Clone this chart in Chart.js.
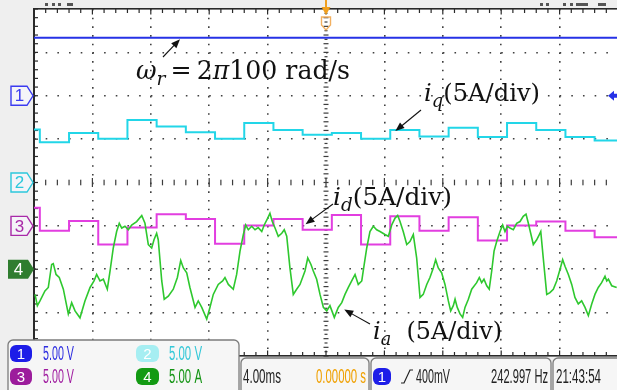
<!DOCTYPE html>
<html>
<head>
<meta charset="utf-8">
<script src="https://cdn.jsdelivr.net/npm/chart.js@4.4.0/dist/chart.umd.min.js"></script>
<style>
html,body{margin:0;padding:0;overflow:hidden;background:#efefef;width:617px;height:390px;}
canvas{display:block;}
</style>
</head>
<body>
<canvas id="c" width="625" height="390"></canvas>
<script>
// ---- data (time in ms, amplitude in screen divisions) ----
const stepTimesMs = [-20, -19.6, -17.6, -15.6, -13.6, -11.6, -9.6, -7.6, -5.6, -3.6, -1.6, 0.4, 2.4, 4.4, 6.4, 8.4, 10.4, 12.4, 14.4, 16.4, 18.4, 20];
const iqDiv = [1.22, 0.93, 1.14, 1.01, 1.44, 1.29, 1.16, 1.01, 1.37, 1.21, 1.10, 1.14, 1.01, 1.21, 1.06, 1.26, 1.05, 1.37, 1.21, 1.05, 0.97, 0.97];
const idDiv = [-0.58, -1.11, -0.89, -1.43, -1.04, -0.73, -0.84, -1.41, -0.99, -0.84, -1.09, -0.75, -1.43, -0.78, -1.11, -0.80, -1.34, -0.99, -0.90, -1.11, -1.26, -1.26];
const wrTimesMs = [-20, 20];
const wrDiv = [3.34, 3.34];
const iaTimesMs = [-19.93, -19.77, -19.59, -19.25, -19.02, -18.79, -18.68, -18.49, -18.27, -17.99,
  -17.65, -17.42, -17.19, -16.85, -16.51, -16.16, -15.89, -15.71, -15.48, -15.25,
  -14.98, -14.79, -14.57, -14.34, -14.16, -13.99, -13.77, -13.54, -13.31, -12.97,
  -12.62, -12.40, -12.17, -11.94, -11.78, -11.60, -11.49, -11.25, -11.08, -10.80,
  -10.46, -10.18, -9.95, -9.77, -9.54, -9.32, -8.97, -8.75, -8.51, -8.17,
  -7.95, -7.72, -7.38, -7.08, -6.92, -6.69, -6.35, -6.12, -5.89, -5.66,
  -5.50, -5.32, -5.09, -4.86, -4.64, -4.40, -4.23, -3.99, -3.84, -3.68,
  -3.49, -3.27, -3.03, -2.86, -2.69, -2.47, -2.24, -2.01, -1.78, -1.44,
  -1.25, -1.03, -0.87, -0.64, -0.41, -0.18, 0.05, 0.27, 0.57, 0.84,
  1.08, 1.30, 1.53, 1.76, 1.99, 2.21, 2.45, 2.55, 2.79, 3.01,
  3.24, 3.47, 3.70, 4.04, 4.27, 4.50, 4.73, 4.91, 5.07, 5.29,
  5.53, 5.75, 5.98, 6.21, 6.44, 6.66, 6.90, 7.12, 7.35, 7.51,
  7.69, 7.92, 8.15, 8.38, 8.54, 8.72, 8.84, 8.99, 9.18, 9.36,
  9.52, 9.75, 9.98, 10.32, 10.50, 10.66, 10.82, 11.01, 11.18, 11.35,
  11.51, 11.69, 11.92, 12.10, 12.26, 12.42, 12.60, 12.83, 13.06, 13.29,
  13.51, 13.70, 13.86, 14.02, 14.20, 14.43, 14.61, 14.71, 14.88, 15.12,
  15.34, 15.57, 15.80, 16.03, 16.21, 16.37, 16.60, 16.83, 17.05, 17.28,
  17.51, 17.74, 17.97, 18.20, 18.42, 18.65, 18.88, 19.11, 19.23, 19.34,
  19.57, 19.91];
const iaDiv = [-2.58, -2.84, -2.73, -2.50, -2.42, -1.89, -1.87, -2.12, -2.19, -2.46,
  -3.03, -2.77, -2.96, -3.12, -2.73, -2.42, -2.27, -2.12, -2.27, -2.23,
  -2.46, -2.04, -1.51, -1.13, -0.94, -1.05, -1.01, -1.09, -0.98, -0.90,
  -0.76, -0.94, -1.43, -1.51, -1.32, -1.17, -1.32, -2.27, -2.69, -2.62,
  -2.46, -2.19, -1.80, -1.97, -2.08, -2.42, -2.88, -2.73, -2.88, -3.15,
  -2.88, -2.58, -2.35, -2.27, -2.19, -2.35, -2.46, -2.12, -1.58, -1.20,
  -0.98, -1.09, -1.01, -1.09, -1.04, -1.13, -0.98, -0.82, -0.71, -0.90,
  -1.05, -1.24, -1.17, -1.09, -1.24, -1.97, -2.58, -2.46, -2.35, -2.04,
  -1.74, -1.89, -2.04, -2.23, -2.58, -2.88, -2.96, -2.84, -3.11, -2.88,
  -2.77, -2.58, -2.42, -2.27, -2.12, -2.35, -2.27, -2.04, -1.51, -1.13,
  -1.01, -1.09, -1.13, -1.20, -1.24, -0.98, -0.82, -0.76, -0.90, -1.13,
  -1.43, -1.36, -1.20, -1.74, -2.65, -2.58, -2.35, -2.19, -1.97, -1.78,
  -1.97, -2.08, -2.35, -2.73, -2.96, -2.84, -2.69, -2.88, -3.03, -3.11,
  -2.88, -2.69, -2.46, -2.31, -2.19, -2.31, -2.23, -2.38, -2.46, -2.04,
  -1.58, -1.36, -1.13, -0.98, -1.13, -1.01, -1.05, -1.09, -0.94, -0.90,
  -0.78, -0.73, -0.94, -1.17, -1.43, -1.32, -1.20, -1.13, -1.74, -2.58,
  -2.54, -2.46, -2.27, -2.00, -1.78, -1.93, -2.12, -2.35, -2.65, -2.80,
  -2.73, -2.88, -3.07, -2.80, -2.58, -2.42, -2.31, -2.16, -2.27, -2.23,
  -2.38, -2.42];
const channelOffsetsDiv = [2, 0, -1, -2];
const channelScales = ['5.00 V', '5.00 V', '5.00 V', '5.00 A'];
const timebaseLabel = '4.00ms';
const delayLabel = '0.00000 s';
const trigLevelLabel = '400mV';
const freqLabel = '242.997 Hz';
const clockLabel = '21:43:54';

const COL = {blue:'#2632e6', cyan:'#22d6e8', mag:'#e23ee0', green:'#2ec82e'};
const zip = (xs, ys) => xs.map((t, i) => ({x: t, y: ys[i]}));

// ---- helpers ----
function richText(ctx, runs, x, base, size, targetW, color) {
  const fam = '"DejaVu Serif", serif';
  let w = 0; const parts = [];
  for (const r of runs) {
    const s = r.sub ? size * 0.74 : size;
    const font = (r.it ? 'italic ' : '') + s + 'px ' + fam;
    ctx.font = font;
    const mw = ctx.measureText(r.t).width;
    parts.push({r, font, mw});
    w += mw;
  }
  const sx = targetW ? targetW / w : 1;
  ctx.save();
  ctx.translate(x, base); ctx.scale(sx, 1);
  ctx.fillStyle = color || '#111'; ctx.textAlign = 'left'; ctx.textBaseline = 'alphabetic';
  let cx = 0;
  for (const p of parts) {
    ctx.font = p.font;
    ctx.fillText(p.r.t, cx, p.r.sub ? size * 0.24 : 0);
    cx += p.mw;
  }
  ctx.restore();
}
function fitText(ctx, s, x, y, w, size, color, right) {
  ctx.save();
  ctx.font = size + 'px "Liberation Sans", Arial, sans-serif';
  const m = ctx.measureText(s).width;
  ctx.translate(right ? x - w : x, y); ctx.scale(w / m, 1);
  ctx.fillStyle = color; ctx.textAlign = 'left'; ctx.textBaseline = 'alphabetic';
  ctx.fillText(s, 0, 0);
  ctx.restore();
}
function arrow(ctx, x1, y1, x2, y2) {
  const ang = Math.atan2(y2 - y1, x2 - x1);
  const L = 9, W = 3.6;
  ctx.save();
  ctx.strokeStyle = '#111'; ctx.fillStyle = '#111'; ctx.lineWidth = 1.1;
  ctx.beginPath(); ctx.moveTo(x1, y1);
  ctx.lineTo(x2 - Math.cos(ang) * L * 0.8, y2 - Math.sin(ang) * L * 0.8); ctx.stroke();
  ctx.beginPath();
  ctx.moveTo(x2, y2);
  ctx.lineTo(x2 - Math.cos(ang) * L + Math.sin(ang) * W, y2 - Math.sin(ang) * L - Math.cos(ang) * W);
  ctx.lineTo(x2 - Math.cos(ang) * L - Math.sin(ang) * W, y2 - Math.sin(ang) * L + Math.cos(ang) * W);
  ctx.closePath(); ctx.fill();
  ctx.restore();
}
function chMarker(ctx, yc, label, color, filled, x0, x1, tip) {
  ctx.save();
  ctx.beginPath();
  ctx.moveTo(x0, yc - 9.5); ctx.lineTo(x1, yc - 9.5); ctx.lineTo(tip, yc); ctx.lineTo(x1, yc + 9.5); ctx.lineTo(x0, yc + 9.5); ctx.closePath();
  if (filled) { ctx.fillStyle = color; ctx.fill(); }
  else { ctx.fillStyle = '#f4f4f8'; ctx.fill(); ctx.strokeStyle = color; ctx.lineWidth = 1.4; ctx.stroke(); }
  ctx.fillStyle = filled ? '#ffffff' : color;
  ctx.font = '17px "Liberation Sans", Arial, sans-serif';
  ctx.textAlign = 'center'; ctx.textBaseline = 'middle';
  ctx.fillText(label, (x0 + x1) / 2 + 0.5, yc + 1);
  ctx.restore();
}
function badge(ctx, x, y, w, h, fill, label) {
  ctx.save();
  ctx.beginPath(); ctx.roundRect(x, y, w, h, 6); ctx.fillStyle = fill; ctx.fill();
  ctx.fillStyle = '#ffffff'; ctx.font = '15px "Liberation Sans", Arial, sans-serif';
  ctx.textAlign = 'center'; ctx.textBaseline = 'middle';
  ctx.fillText(label, x + w / 2, y + h / 2 + 1);
  ctx.restore();
}
function panel(ctx, x, y, w, h) {
  ctx.save();
  ctx.beginPath(); ctx.roundRect(x, y, w, h, 5);
  ctx.fillStyle = '#f6f6f6'; ctx.fill();
  ctx.strokeStyle = '#7c7c7c'; ctx.lineWidth = 1.3; ctx.stroke();
  ctx.restore();
}

const scopePlugin = {
  id: 'scope',
  beforeDraw(chart) {
    const {ctx, chartArea: a} = chart;
    ctx.save();
    ctx.fillStyle = '#efefef'; ctx.fillRect(0, 0, chart.width, chart.height);
    ctx.fillStyle = '#ffffff'; ctx.fillRect(a.left, a.top, a.right - a.left, a.bottom - a.top);
    // clipped remains of status text above the screen
    ctx.fillStyle = '#555';
    [[45, 3], [52, 3], [58, 3], [67, 6]].forEach(([px, w]) => ctx.fillRect(px, 3, w, 3));
    [[540, 3], [546, 3], [563, 3], [570, 3], [576, 12], [598, 8]].forEach(([px, w]) => ctx.fillRect(px, 3, w, 3));
    ctx.restore();
  },
  beforeDatasetsDraw(chart) {
    const {ctx, chartArea: a, scales: {x, y}} = chart;
    ctx.save();
    ctx.fillStyle = '#3c3c3c';
    const x0 = x.getPixelForValue(0), y0 = y.getPixelForValue(0);
    for (let k = -40; k <= 40; k++) {
      const py = y.getPixelForValue(k / 10);
      const w = (k % 2 === 0) ? 5 : 3;
      ctx.fillRect(x0 - w / 2, py - 0.6, w, 1.2);
    }
    for (let k = -25; k <= 25; k++) {
      const pxx = x.getPixelForValue(k * 0.8);
      const h = (k % 5 === 0) ? 4.5 : 2.8;
      ctx.fillRect(pxx - 0.6, y0 - h, 1.2, 2 * h);
    }
    ctx.fillStyle = '#2a2a2a';
    ctx.fillRect(a.left - 1, a.top - 1, 2, a.bottom - a.top + 2);
    ctx.fillRect(a.left - 1, a.top - 1, a.right - a.left + 2, 1.6);
    ctx.fillRect(a.left - 1, a.bottom - 1, a.right - a.left + 2, 1.6);
    for (let k = -25; k <= 25; k++) {
      const pxx = x.getPixelForValue(k * 0.8);
      const h = (k % 5 === 0) ? 5.5 : 4;
      ctx.fillRect(pxx - 0.6, a.top, 1.2, h);
      ctx.fillRect(pxx - 0.6, a.bottom - h, 1.2, h);
    }
    for (let k = -20; k <= 20; k++) {
      const py = y.getPixelForValue(k / 5);
      ctx.fillRect(a.left, py - 0.6, 4, 1.2);
    }
    ctx.restore();
  },
  afterDraw(chart) {
    const {ctx, chartArea: a, scales: {x, y}} = chart;
    const X = v => x.getPixelForValue(v), Y = v => y.getPixelForValue(v);
    ctx.save();
    const tx = X(0);
    ctx.fillStyle = '#f0a020'; ctx.strokeStyle = '#f2b060'; ctx.lineWidth = 1.4;
    ctx.fillRect(tx - 1, 0, 2, 8);
    ctx.beginPath(); ctx.moveTo(tx - 4.5, 7); ctx.lineTo(tx + 4.5, 7); ctx.lineTo(tx, 15); ctx.closePath(); ctx.fill();
    ctx.beginPath(); ctx.moveTo(tx - 4.5, 17); ctx.lineTo(tx + 4.5, 17); ctx.lineTo(tx + 4.5, 25); ctx.lineTo(tx, 30); ctx.lineTo(tx - 4.5, 25); ctx.closePath(); ctx.stroke();
    const ty = Y(channelOffsetsDiv[0]);
    ctx.fillStyle = COL.blue;
    ctx.beginPath(); ctx.moveTo(608, ty); ctx.lineTo(614, ty - 5); ctx.lineTo(614, ty + 5); ctx.closePath(); ctx.fill();
    ctx.fillRect(613, ty - 2, 5, 4);
    ctx.restore();

    chMarker(ctx, Y(channelOffsetsDiv[0]), '1', '#3a3af0', false, 11, 27, 33);
    chMarker(ctx, Y(channelOffsetsDiv[1]), '2', '#2cc8dc', false, 11, 27, 33);
    chMarker(ctx, Y(channelOffsetsDiv[2]), '3', '#a82aa8', false, 11, 27, 33);
    chMarker(ctx, Y(channelOffsetsDiv[3]), '4', '#2f7d2f', true, 8, 28, 34);

    richText(ctx, [{t: 'ω', it: true}, {t: 'r', it: true, sub: true}, {t: '\u2009=\u20092'}, {t: 'π', it: true}, {t: '100 rad/s'}], 136, 79, 26, 214);
    arrow(ctx, 163, 57, X(-10), Y(wrDiv[0]) + 1.5);
    richText(ctx, [{t: 'i', it: true}, {t: 'q', it: true, sub: true}, {t: '(5A/div)'}], 424, 101, 24, 116);
    arrow(ctx, 421, 110, X(4.75), Y(1.21) + 1);
    richText(ctx, [{t: 'i', it: true}, {t: 'd', it: true, sub: true}, {t: '(5A/div)'}], 333, 205, 24, 119);
    arrow(ctx, 333, 204, X(-1.4), Y(-0.96));
    richText(ctx, [{t: 'i', it: true}, {t: 'a', it: true, sub: true}, {t: '  (5A/div)'}], 373, 339, 24, 129);
    arrow(ctx, 370, 324, X(1.25), Y(-2.93));

    panel(ctx, 8, 340, 231, 60);
    badge(ctx, 10, 345, 22, 17, '#1d1de8', '1');
    badge(ctx, 136, 345, 23, 17, '#a6eef2', '2');
    badge(ctx, 10, 368, 22, 17, '#9c1c9c', '3');
    badge(ctx, 136, 368, 23, 17, '#139a13', '4');
    fitText(ctx, channelScales[0], 43, 360, 31, 20, '#2d2de0');
    fitText(ctx, channelScales[1], 169, 360, 33, 20, '#34c8d8');
    fitText(ctx, channelScales[2], 43, 383, 31, 20, '#a01ea0');
    fitText(ctx, channelScales[3], 169, 383, 33, 20, '#149414');

    panel(ctx, 241, 358, 128, 40);
    fitText(ctx, timebaseLabel, 243, 383, 38, 20, '#222');
    fitText(ctx, delayLabel, 366, 383, 50, 20, '#f0a000', true);
    panel(ctx, 371, 358, 180, 40);
    badge(ctx, 373, 368, 18, 17, '#1d1de8', '1');
    ctx.save();
    ctx.strokeStyle = '#222'; ctx.lineWidth = 1.2;
    ctx.beginPath(); ctx.moveTo(401, 383); ctx.lineTo(404, 383); ctx.lineTo(410, 370); ctx.lineTo(413, 370); ctx.stroke();
    ctx.restore();
    fitText(ctx, trigLevelLabel, 416, 383, 34, 20, '#222');
    fitText(ctx, freqLabel, 548, 383, 57, 20, '#222', true);
    panel(ctx, 553, 358, 75, 40);
    fitText(ctx, clockLabel, 556, 383, 45, 20, '#222');
  }
};

const gridCol = (edge) => (c) => {
  const v = c.tick ? c.tick.value : 0;
  return (Math.abs(v) < 1e-9 || Math.abs(Math.abs(v) - edge) < 1e-9) ? 'rgba(0,0,0,0)' : '#404040';
};

new Chart(document.getElementById('c'), {
  type: 'line',
  data: {
    datasets: [
      {label: 'ia', data: zip(iaTimesMs, iaDiv), borderColor: COL.green, borderWidth: 1.6, pointRadius: 0, tension: 0, order: 0},
      {label: 'id', data: zip(stepTimesMs, idDiv), borderColor: COL.mag, borderWidth: 2, pointRadius: 0, stepped: 'before', order: 1},
      {label: 'iq', data: zip(stepTimesMs, iqDiv), borderColor: COL.cyan, borderWidth: 2, pointRadius: 0, stepped: 'before', order: 2},
      {label: 'wr', data: zip(wrTimesMs, wrDiv), borderColor: COL.blue, borderWidth: 2, pointRadius: 0, order: 3}
    ]
  },
  options: {
    responsive: false,
    animation: false,
    devicePixelRatio: 1,
    layout: {padding: {left: 34, top: 9, right: 7, bottom: 34}},
    plugins: {legend: {display: false}, tooltip: {enabled: false}},
    scales: {
      x: {
        type: 'linear', min: -20, max: 20,
        ticks: {display: false, stepSize: 4},
        grid: {drawTicks: false, color: gridCol(20), lineWidth: 1.6},
        border: {display: false, dash: [1.6, 7.08]}
      },
      y: {
        type: 'linear', min: -4, max: 4,
        ticks: {display: false, stepSize: 1},
        grid: {drawTicks: false, color: gridCol(4), lineWidth: 1.6},
        border: {display: false, dash: [1.6, 10.08]}
      }
    }
  },
  plugins: [scopePlugin]
});
</script>
</body>
</html>
